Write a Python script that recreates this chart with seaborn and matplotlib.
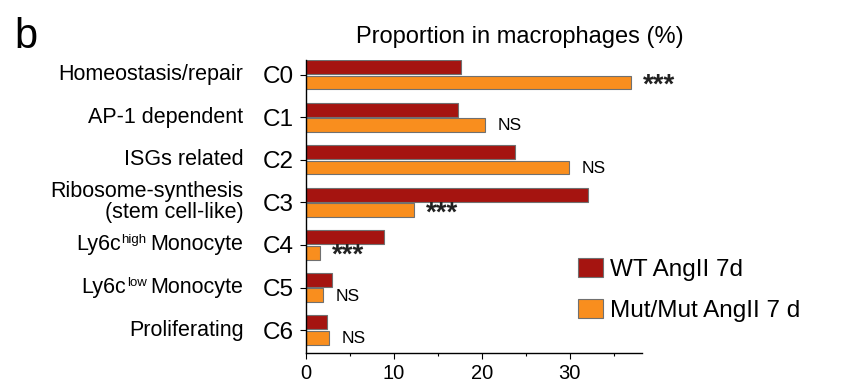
import numpy as np
import pandas as pd
import matplotlib
matplotlib.use("Agg")
import matplotlib.pyplot as plt
import matplotlib.transforms as mtransforms
from matplotlib.ticker import MultipleLocator
import seaborn as sns

# datos
clusters = ["C0", "C1", "C2", "C3", "C4", "C5", "C6"]
descripciones = [
    "Homeostasis/repair",
    "AP-1 dependent",
    "ISGs related",
    "Ribosome-synthesis\n(stem cell-like)",
    ("Ly6c", "high", "Monocyte"),
    ("Ly6c", "low", "Monocyte"),
    "Proliferating",
]
wt = [17.6, 17.3, 23.8, 32.1, 8.9, 2.95, 2.4]
mut = [36.9, 20.3, 29.9, 12.3, 1.6, 1.9, 2.6]
signif = ["***", "NS", "NS", "***", "***", "NS", "NS"]
grupos = ["WT AngII 7d", "Mut/Mut AngII 7 d"]
colores = ["#A51410", "#F98E1E"]

df = pd.DataFrame({
    "cluster": clusters * 2,
    "valor": wt + mut,
    "grupo": [grupos[0]] * len(clusters) + [grupos[1]] * len(clusters),
})

sns.set_style("white")
plt.rcParams["font.family"] = ["Liberation Sans", "DejaVu Sans"]
for k in ["text.color", "axes.labelcolor", "xtick.color", "ytick.color"]:
    plt.rcParams[k] = "black"

fig = plt.figure(figsize=(8.44, 3.88), dpi=100)
ax = fig.add_axes([0.3626, 0.0902, 0.398, 0.754])

sns.barplot(data=df, x="valor", y="cluster", hue="grupo", orient="h",
            palette=colores, saturation=1, width=0.72, gap=0.1,
            edgecolor="#707070", linewidth=0.8, ax=ax)

ax.set_xlim(0, 38.2)
ax.set_ylim(6.54, -0.34)
ax.xaxis.set_major_locator(MultipleLocator(10))
ax.xaxis.set_minor_locator(MultipleLocator(5))
ax.set_xlabel("")
ax.set_ylabel("")
sns.despine(ax=ax)
for s in ["left", "bottom"]:
    ax.spines[s].set_color("black")
    ax.spines[s].set_linewidth(1.0)
ax.tick_params(axis="x", which="major", length=4, width=0.8, labelsize=14.5, pad=4, bottom=True)
ax.tick_params(axis="x", which="minor", length=2.5, width=0.8, bottom=True)
ax.tick_params(axis="y", length=4, width=0.8, labelsize=17.5, pad=5, left=True)

# etiquetas descriptivas a la izquierda
trans = mtransforms.blended_transform_factory(ax.transAxes, ax.transData)
for i, d in enumerate(descripciones):
    if isinstance(d, tuple):
        # Ly6c con superindice pequeño
        t1 = ax.text(-0.186, i, d[2], transform=trans, ha="right", va="center", fontsize=15.5)
        t2 = ax.annotate(d[1], xy=(0, 1), xycoords=t1, xytext=(-4, 0),
                         textcoords="offset pixels", ha="right", va="top", fontsize=9.5)
        ax.annotate(d[0], xy=(0, 0), xycoords=(t2, t1), xytext=(-1, 0),
                    textcoords="offset pixels", ha="right", va="bottom", fontsize=15.5)
    else:
        ax.text(-0.186, i, d, transform=trans, ha="right", va="center",
                fontsize=15.5, linespacing=1.0)

# significancia junto a la barra Mut/Mut
for i, (v, s) in enumerate(zip(mut, signif)):
    if s == "***":
        ax.annotate(s, xy=(v, i + 0.18), xytext=(12, -10), textcoords="offset pixels",
                    ha="left", va="baseline", fontsize=20, fontweight="bold", color="#222222")
    else:
        ax.annotate(s, xy=(v, i + 0.2), xytext=(13, 0), textcoords="offset pixels",
                    ha="left", va="center", fontsize=12.5)

sns.move_legend(ax, "upper left", bbox_to_anchor=(0.685, 0.335),
                bbox_transform=fig.transFigure, title=None, frameon=False,
                fontsize=17.5, handlelength=1.03, handleheight=0.82,
                handletextpad=0.3, labelspacing=0.74, borderpad=0, borderaxespad=0)

fig.text(0.6155, 0.889, "Proportion in macrophages (%)", ha="center", va="baseline", fontsize=17)
fig.text(0.017, 0.876, "b", ha="left", va="baseline", fontsize=30)

fig.savefig("out.png", dpi=100)
